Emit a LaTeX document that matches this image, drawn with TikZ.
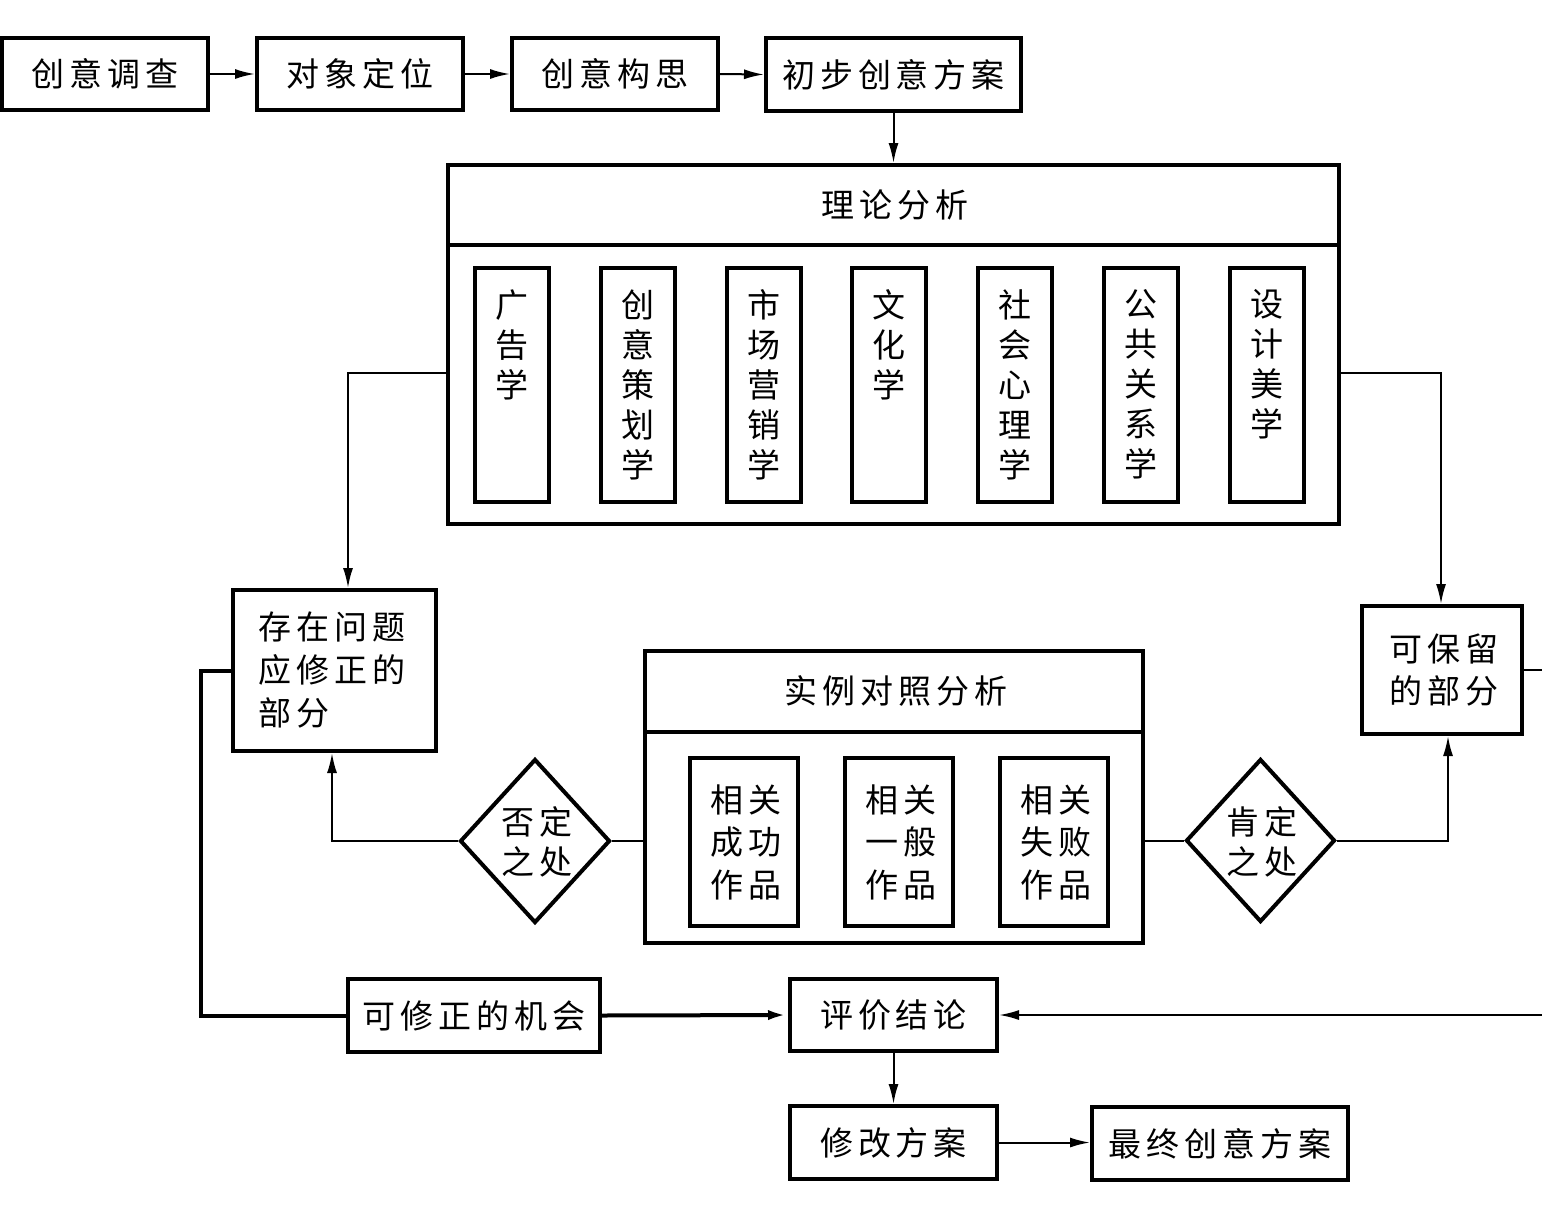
\documentclass[tikz,border=0pt]{standalone}
\usepackage{fontspec}
\newfontfamily\cjk[LetterSpace=15]{Noto Sans CJK SC}
\newfontfamily\cjkv{Noto Sans CJK SC}
\usetikzlibrary{arrows.meta,shapes.geometric}
\begin{document}
\begin{tikzpicture}[x=0.5pt,y=-0.5pt,
  box/.style={draw, line width=2pt, inner sep=0pt},
  txt/.style={font={\fontsize{16.5}{21}\selectfont\cjk}, inner sep=0pt},
  vtxt/.style={font={\fontsize{16.5}{20}\selectfont\cjkv}, align=center, inner sep=0pt, anchor=north},
  conn/.style={line width=1pt, -{Latex[length=10pt,width=5pt]}},
  plain/.style={line width=1pt},
  thickline/.style={line width=2pt},
  thickconn/.style={line width=2pt, -{Latex[length=10pt,width=5pt]}},
  dia/.style={draw, line width=2pt, shape=diamond, inner sep=0pt}]
\useasboundingbox (0,0) rectangle (1542,1216);
% top row
\node[box, txt, minimum width=103pt, minimum height=36pt] (n1) at (105,74) {创意调查};
\node[box, txt, minimum width=103pt, minimum height=36pt] (n2) at (360,74) {对象定位};
\node[box, txt, minimum width=103pt, minimum height=36pt] (n3) at (615,74) {创意构思};
\node[box, txt, minimum width=127.5pt, minimum height=36.5pt] (n4) at (893.5,74.5) {初步创意方案};
\draw[conn] (n1.east) -- (n2.west);
\draw[conn] (n2.east) -- (n3.west);
\draw[conn] (n3.east) -- (n4.west);
% theory box
\node[box, minimum width=445.5pt, minimum height=179.5pt] (theory) at (893.5,344.5) {};
\coordinate (tdl) at (448,245);
\coordinate (tdr) at (1339,245);
\draw[line width=2pt] (tdl) -- (tdr);
\node[txt] (ttitle) at (895,205) {理论分析};
\draw[conn] (n4.south) -- (theory.north);
\foreach \x/\t/\n in {512/{广\\告\\学}/a, 638/{创\\意\\策\\划\\学}/b, 764/{市\\场\\营\\销\\学}/c, 889/{文\\化\\学}/d, 1015/{社\\会\\心\\理\\学}/e, 1141/{公\\共\\关\\系\\学}/f, 1267/{设\\计\\美\\学}/g}{
  \node[box, minimum width=37pt, minimum height=117pt] (ib\n) at (\x,385) {};
  \node[vtxt] (it\n) at (\x,289) {\t};
}
% problem box
\node[box, minimum width=101.5pt, minimum height=80.5pt] (prob) at (334.5,670.5) {};
\node[txt, align=left, anchor=north west, font={\fontsize{16.5}{21.5}\selectfont\cjk}] (probt) at (258,611) {存在问题\\应修正的\\部分};
% keep box
\node[box, minimum width=80pt, minimum height=64pt] (keep) at (1442,670) {};
\node[txt, align=center, font={\fontsize{16.5}{21}\selectfont\cjk}] (keept) at (1444,670) {可保留\\的部分};
\draw[conn] (theory.west |- 0,373) -| (348,0 |- prob.north);
\draw[conn] (theory.east |- 0,373) -| (1441,0 |- keep.north);
% case box
\node[box, minimum width=249pt, minimum height=146pt] (case) at (894,797) {};
\coordinate (cdl) at (645,732);
\coordinate (cdr) at (1143,732);
\draw[line width=2pt] (cdl) -- (cdr);
\node[txt] (ctitle) at (896,691) {实例对照分析};
\foreach \x/\t/\n in {744/{相关\\成功\\作品}/a, 899/{相关\\一般\\作品}/b, 1054/{相关\\失败\\作品}/c}{
  \node[box, minimum width=54pt, minimum height=84pt] (cb\n) at (\x,842) {};
  \node[vtxt, font={\fontsize{16.5}{21.25}\selectfont\cjk}] (ct\n) at (\x+2,784) {\t};
}
% diamonds
\node[dia, minimum width=75pt, minimum height=82pt] (neg) at (535,841) {};
\node[txt, align=center, font={\fontsize{16.5}{20}\selectfont\cjk}] (negt) at (537,842) {否定\\之处};
\node[dia, minimum width=74.5pt, minimum height=81.5pt] (pos) at (1260.5,840.5) {};
\node[txt, align=center, font={\fontsize{16.5}{20}\selectfont\cjk}] (post) at (1262,842) {肯定\\之处};
\draw[plain] (case.west |- neg) -- (neg.east);
\draw[conn] (neg.west) -| (332,0 |- prob.south);
\draw[plain] (case.east |- pos) -- (pos.west);
\draw[conn] (pos.east) -| (1448,0 |- keep.south);
% bottom
\node[box, txt, minimum width=126pt, minimum height=36.5pt] (fix) at (474,1015.5) {可修正的机会};
\node[box, txt, minimum width=103.5pt, minimum height=36pt] (eval) at (893.5,1015) {评价结论};
\node[box, txt, minimum width=103.5pt, minimum height=36.5pt] (mod) at (893.5,1142.5) {修改方案};
\node[box, txt, minimum width=128pt, minimum height=36.5pt] (final) at (1220,1143.5) {最终创意方案};
\coordinate (lc) at (201,670);
\draw[thickline] (prob.west) -- (lc |- prob.west) |- (fix.west);
\draw[thickconn] (fix.east) -- (eval.west);
\coordinate (rc) at (1552,670);
\draw[conn] (keep.east) -- (rc |- keep.east) |- (eval.east);
\draw[conn] (eval.south) -- (mod.north);
\draw[conn] (mod.east) -- (mod.east -| final.west);
\end{tikzpicture}
\end{document}
